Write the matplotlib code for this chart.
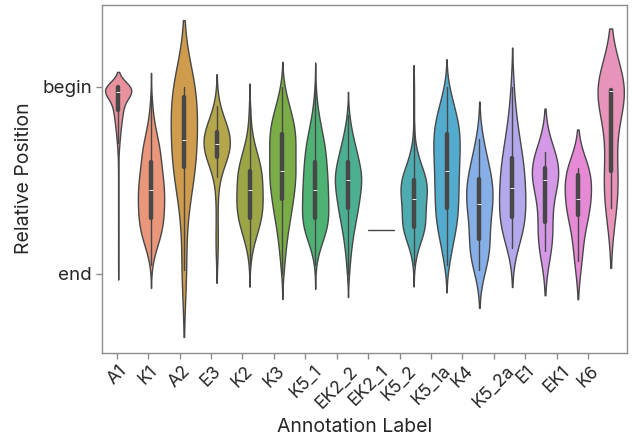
import numpy as np
import pandas as pd
import matplotlib
matplotlib.use("Agg")
import matplotlib.pyplot as plt
import seaborn as sns

# Category order on the x axis
labels = ["A1", "K1", "A2", "E3", "K2", "K3", "K5_1", "EK2_2", "EK2_1",
          "K5_2", "K5_1a", "K4", "K5_2a", "E1", "EK1", "K6"]

# Relative positions (0 = begin, 1 = end); *_val = positions, *_cnt = how many
A1_val = [0.0, 0.025, 0.05, 0.075, 0.1, 0.125, 0.15, 0.175, 0.2, 0.225, 0.25,
          0.275, 0.3, 0.325, 0.35, 0.4, 0.45, 0.55, 0.65, 0.75, 0.85, 0.95]
A1_cnt = [82, 70, 25, 20, 18, 16, 14, 12, 10, 8, 7, 5, 4, 3, 2, 1, 1, 1, 1, 1, 1, 1]

K1_val = [0.05, 0.1, 0.15, 0.2, 0.25, 0.3, 0.35, 0.4, 0.45, 0.5, 0.55, 0.6,
          0.65, 0.7, 0.75, 0.8, 0.85, 0.9, 0.95]
K1_cnt = [1, 2, 4, 6, 10, 15, 18, 18, 21, 23, 25, 25, 24, 24, 22, 18, 12, 5, 2]

A2_val = [0.0, 0.0, 0.03, 0.06, 0.15, 0.25, 0.32, 0.38, 0.42, 0.46, 0.62, 0.98]

E3_val = [0.1, 0.15, 0.18, 0.2, 0.21, 0.22, 0.23, 0.24, 0.25, 0.26, 0.27, 0.28,
          0.29, 0.3, 0.3, 0.31, 0.32, 0.33, 0.34, 0.35, 0.36, 0.37, 0.38, 0.39,
          0.41, 0.44, 0.48, 0.6, 0.76, 0.88]

K2_val = [0.1, 0.15, 0.2, 0.25, 0.3, 0.35, 0.4, 0.45, 0.5, 0.55, 0.6, 0.65,
          0.7, 0.75, 0.8, 0.85, 0.9, 0.95]
K2_cnt = [1, 1, 2, 3, 6, 10, 14, 17, 18, 17, 19, 18, 17, 13, 9, 5, 2, 1]

K3_val = [0.0, 0.05, 0.1, 0.15, 0.2, 0.25, 0.3, 0.35, 0.4, 0.45, 0.5, 0.55,
          0.6, 0.65, 0.7, 0.75, 0.8, 0.85, 0.9, 0.95, 1.0]
K3_cnt = [6, 10, 16, 26, 28, 36, 33, 32, 32, 34, 34, 30, 27, 24, 20, 15, 12, 9, 7, 5, 3]

K5_1_val = [0.0, 0.05, 0.1, 0.15, 0.2, 0.25, 0.3, 0.35, 0.4, 0.45, 0.5, 0.55,
            0.6, 0.65, 0.7, 0.75, 0.8, 0.85, 0.9, 0.95]
K5_1_cnt = [1, 2, 4, 6, 10, 13, 18, 19, 21, 22, 23, 24, 24, 24, 26, 24, 17, 10, 4, 1]

EK2_2_val = [0.15, 0.2, 0.25, 0.3, 0.35, 0.4, 0.45, 0.5, 0.55, 0.6, 0.65, 0.7,
             0.75, 0.8, 0.85, 0.9, 0.95, 1.0]
EK2_2_cnt = [2, 4, 7, 11, 15, 19, 22, 26, 20, 20, 17, 14, 11, 8, 6, 4, 3, 2]

EK2_1_val = [0.765]

K5_2_val = [0.0, 0.1, 0.2, 0.3, 0.35, 0.4, 0.45, 0.5, 0.55, 0.6, 0.65, 0.7,
            0.75, 0.8, 0.85, 0.9, 0.95]
K5_2_cnt = [1, 1, 1, 2, 4, 8, 13, 18, 19, 16, 15, 15, 17, 12, 6, 3, 1]

K5_1a_val = [0.0, 0.05, 0.1, 0.15, 0.2, 0.25, 0.3, 0.35, 0.4, 0.45, 0.5, 0.55,
             0.6, 0.65, 0.7, 0.75, 0.8, 0.85, 0.9, 0.95]
K5_1a_cnt = [5, 8, 13, 18, 22, 24, 24, 23, 22, 22, 21, 21, 21, 20, 20, 18, 13, 10, 7, 5]

K4_val = [0.28, 0.33, 0.38, 0.42, 0.45, 0.47, 0.48, 0.5, 0.52, 0.55, 0.57, 0.59,
          0.61, 0.62, 0.63, 0.65, 0.68, 0.7, 0.74, 0.78, 0.81, 0.83, 0.85, 0.87,
          0.9, 0.92, 0.95, 0.98]

K5_2a_val = [0.0, 0.12, 0.18, 0.22, 0.26, 0.3, 0.33, 0.35, 0.37, 0.39, 0.41, 0.43,
             0.45, 0.47, 0.49, 0.51, 0.53, 0.54, 0.55, 0.57, 0.59, 0.61, 0.63, 0.65,
             0.67, 0.69, 0.7, 0.71, 0.72, 0.74, 0.76, 0.78, 0.8, 0.83, 0.86]

E1_val = [0.35, 0.40, 0.43, 0.45, 0.48, 0.52, 0.62, 0.76, 0.8, 0.88]

EK1_val = [0.433, 0.45, 0.46, 0.51, 0.58, 0.62, 0.66, 0.69, 0.8, 0.93]

K6_val = [0.005, 0.01, 0.015, 0.018, 0.02, 0.02, 0.022, 0.28, 0.43, 0.5, 0.6, 0.65]

y_tick_labels = ["begin", "end"]
x_title = "Annotation Label"
y_title = "Relative Position"

# Fill colours of the violins, in category order
violin_colors = ["#E8929F", "#E9967A", "#CF9B4D", "#B4A64A", "#9DA646", "#7BAD46",
                 "#4DB274", "#4DAF91", "#4DADA3", "#4EABB0", "#53ACCE", "#86AEE7",
                 "#B3A8EB", "#D498E7", "#E68AD6", "#E893B9"]

observations = {
    "A1": np.repeat(A1_val, A1_cnt),
    "K1": np.repeat(K1_val, K1_cnt),
    "A2": np.asarray(A2_val),
    "E3": np.asarray(E3_val),
    "K2": np.repeat(K2_val, K2_cnt),
    "K3": np.repeat(K3_val, K3_cnt),
    "K5_1": np.repeat(K5_1_val, K5_1_cnt),
    "EK2_2": np.repeat(EK2_2_val, EK2_2_cnt),
    "EK2_1": np.asarray(EK2_1_val),
    "K5_2": np.repeat(K5_2_val, K5_2_cnt),
    "K5_1a": np.repeat(K5_1a_val, K5_1a_cnt),
    "K4": np.asarray(K4_val),
    "K5_2a": np.asarray(K5_2a_val),
    "E1": np.asarray(E1_val),
    "EK1": np.asarray(EK1_val),
    "K6": np.asarray(K6_val),
}

df = pd.concat(
    [pd.DataFrame({"label": lab, "pos": observations[lab]}) for lab in labels],
    ignore_index=True,
)

sns.set_style("white")
plt.rcParams["font.family"] = ["Inter", "DejaVu Sans"]

fig, ax = plt.subplots(figsize=(6.36, 4.4), dpi=100)
fig.subplots_adjust(left=0.160, right=0.986, top=0.989, bottom=0.198)

sns.violinplot(
    data=df, x="label", y="pos", hue="label", order=labels, hue_order=labels,
    palette=dict(zip(labels, violin_colors)), saturation=1.0,
    density_norm="width", cut=2, inner="box", linewidth=1.0, linecolor="#474747",
    inner_kws=dict(box_width=3.2, whis_width=1.0), legend=False, ax=ax,
)

ax.set_xlim(-0.5, len(labels) - 0.5)
ax.set_ylim(1.422, -0.4385)
ax.set_yticks([0, 1])
ax.set_yticklabels(y_tick_labels, fontsize=13.5)

tick_pos = np.linspace(-0.043, 14.31, len(labels))
ax.set_xticks(tick_pos)
ax.set_xticklabels(labels, rotation=45, ha="center", fontsize=12.8)

for sp in ax.spines.values():
    sp.set_visible(True)
    sp.set_color("#8c8c8c")
    sp.set_linewidth(1.0)
ax.tick_params(axis="both", direction="out", length=4, width=1, color="#8c8c8c",
               bottom=True, left=True, pad=3)

ax.set_xlabel(x_title, fontsize=14)
ax.set_ylabel(y_title, fontsize=14)
ax.xaxis.set_label_coords(0.481, -0.187)
ax.yaxis.set_label_coords(-0.131, 0.503)

fig.savefig("out.png", dpi=100)
